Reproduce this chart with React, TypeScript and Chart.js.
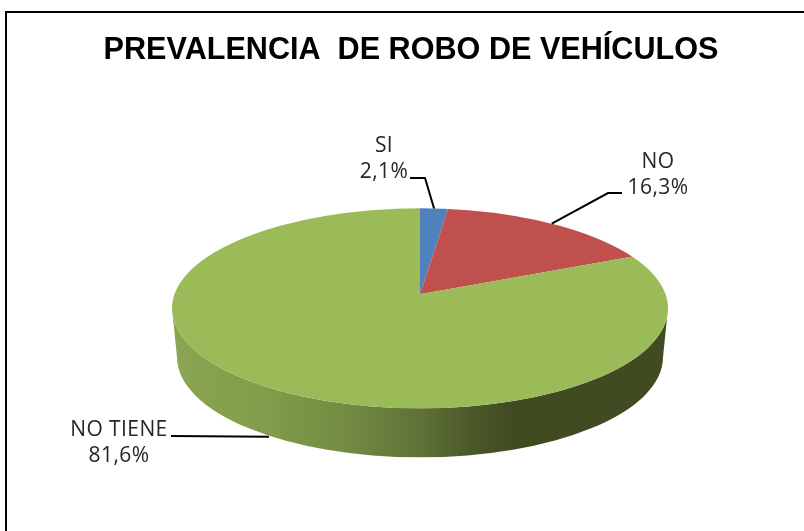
import React, { useEffect, useRef } from "react";
import { Chart, registerables } from "chart.js";

Chart.register(...registerables);

const chartTitle = "PREVALENCIA  DE ROBO DE VEHÍCULOS";
const categories = ["SI", "NO", "NO TIENE"];
const values = [2.1, 16.3, 81.6];
const colors = ["#4F81BD", "#C0504D", "#9BBB59"];

// Layout of the 3D projection (pixels)
const SQUASH = 0.403;
const RX = 248;
const RY = 100;
const APEX_ABOVE_CENTRE = 14;
const DEPTH = 49;
const BOTTOM_RX = 243;
const LABEL_FONT = '21px "Open Sans", Lato, sans-serif';

const labelLayouts = [
  { tx: 384, ty: [146, 172], line: [[410, 178], [425, 178]], side: false },
  { tx: 658, ty: [162, 188], line: [[622, 193], [608, 193]], side: false },
  { tx: 119, ty: [430, 456], line: [[171, 436]], side: true },
];

const pie3d = {
  id: "pie3d",
  afterLayout(chart: any) {
    if (chart.titleBlock) {
      chart.titleBlock.left = 18;
      chart.titleBlock.right = 804;
    }
  },
  beforeDraw(chart: any) {
    const { ctx } = chart;
    ctx.save();
    ctx.strokeStyle = "#000";
    ctx.lineWidth = 2;
    ctx.beginPath();
    ctx.moveTo(6, 531);
    ctx.lineTo(6, 12);
    ctx.lineTo(804, 12);
    ctx.stroke();
    ctx.restore();
  },
  beforeDatasetsDraw(chart: any) {
    const { ctx } = chart;
    const arc = chart.getDatasetMeta(0).data[0];
    const ax = arc.x;
    const ay = arc.y;
    const cy = ay + APEX_ABOVE_CENTRE;
    ctx.save();
    // side wall
    const g = ctx.createLinearGradient(ax - RX, 0, ax + RX, 0);
    const stops: [number, string][] = [
      [0, "#8AA651"],
      [0.18, "#829D4B"],
      [0.34, "#748D43"],
      [0.5, "#5F7136"],
      [0.6, "#4C5A2A"],
      [0.68, "#404B21"],
      [1, "#404B21"],
    ];
    stops.forEach(([o, c]) => g.addColorStop(o, c));
    ctx.fillStyle = g;
    ctx.beginPath();
    ctx.ellipse(ax, cy, RX, RY, 0, 0, Math.PI, false);
    ctx.lineTo(ax - BOTTOM_RX, cy + DEPTH);
    ctx.ellipse(ax, cy + DEPTH, BOTTOM_RX, RY, 0, Math.PI, 0, true);
    ctx.closePath();
    ctx.fill();
    // top face: clip to the ellipse, squash around the apex
    ctx.beginPath();
    ctx.ellipse(ax, cy, RX, RY, 0, 0, Math.PI * 2);
    ctx.clip();
    ctx.translate(ax, ay);
    ctx.scale(1, SQUASH);
    ctx.translate(-ax, -ay);
  },
  afterDatasetsDraw(chart: any) {
    const { ctx } = chart;
    ctx.restore();
    const arcs = chart.getDatasetMeta(0).data;
    ctx.save();
    arcs.forEach((arc: any, i: number) => {
      const mid = (arc.startAngle + arc.endAngle) / 2;
      const dx = Math.cos(mid);
      const dy = Math.sin(mid) * SQUASH;
      // ray from apex to the ellipse edge
      const a = (dx * dx) / (RX * RX) + (dy * dy) / (RY * RY);
      const b = (2 * dy * -APEX_ABOVE_CENTRE) / (RY * RY);
      const c = (APEX_ABOVE_CENTRE * APEX_ABOVE_CENTRE) / (RY * RY) - 1;
      const t = (-b + Math.sqrt(b * b - 4 * a * c)) / (2 * a);
      const layout = labelLayouts[i];
      const ex = arc.x + dx * t;
      const ey = arc.y + dy * t + (layout.side ? DEPTH : 0);
      ctx.strokeStyle = "#000";
      ctx.lineWidth = 2;
      ctx.beginPath();
      layout.line.forEach(([x, y], k) => (k ? ctx.lineTo(x, y) : ctx.moveTo(x, y)));
      ctx.lineTo(ex, ey);
      ctx.stroke();
      ctx.fillStyle = "#262626";
      ctx.font = LABEL_FONT;
      (ctx as any).letterSpacing = "0.4px";
      ctx.textAlign = "center";
      ctx.textBaseline = "middle";
      ctx.fillText(categories[i], layout.tx, layout.ty[0]);
      ctx.fillText(values[i].toFixed(1).replace(".", ",") + "%", layout.tx, layout.ty[1]);
    });
    ctx.restore();
  },
};

export default function App() {
  const ref = useRef<HTMLCanvasElement>(null);
  useEffect(() => {
    document.body.style.margin = "0";
    const chart = new Chart(ref.current!, {
      type: "pie",
      data: {
        labels: categories,
        datasets: [
          {
            data: values,
            backgroundColor: colors,
            borderWidth: 0,
            radius: 320,
            clip: false,
          } as any,
        ],
      },
      options: {
        responsive: false,
        animation: false,
        layout: { padding: { left: 36, right: 0, top: 0, bottom: 11 } },
        plugins: {
          legend: { display: false },
          tooltip: { enabled: false },
          title: {
            display: true,
            text: chartTitle,
            color: "#000",
            font: { family: '"Liberation Sans", Arial, sans-serif', size: 30.6, weight: "bold" },
            padding: { top: 32, bottom: 0 },
          },
        },
      },
      plugins: [pie3d],
    });
    return () => chart.destroy();
  }, []);
  return <canvas ref={ref} width={804} height={531} style={{ display: "block" }} />;
}
